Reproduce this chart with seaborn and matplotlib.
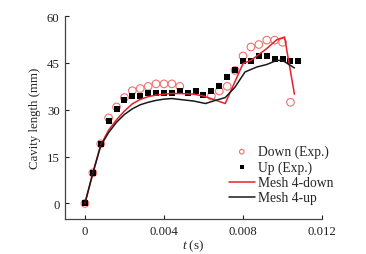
import matplotlib
matplotlib.use("Agg")
import matplotlib.pyplot as plt
import seaborn as sns
import pandas as pd
import numpy as np

# experimental points (t in s, cavity length in mm)
t_up = [0, 0.0004, 0.0008, 0.0012, 0.0016, 0.0020, 0.0024, 0.0028, 0.0032, 0.0036,
        0.0040, 0.0044, 0.0048, 0.0052, 0.0056, 0.0060, 0.0064, 0.0068, 0.0072, 0.0076,
        0.0080, 0.0084, 0.0088, 0.0092, 0.0096, 0.0100, 0.0104, 0.0108]
up_exp = [0, 9.8, 19.1, 26.4, 30.2, 33.1, 34.4, 34.4, 35.3, 35.3,
          35.3, 35.3, 35.9, 35.3, 35.9, 34.6, 35.9, 37.5, 40.5, 42.6,
          45.7, 45.7, 47.2, 47.2, 46.4, 46.4, 45.7, 45.7]

t_down = [0, 0.0004, 0.0008, 0.0012, 0.0016, 0.0020, 0.0024, 0.0028, 0.0032, 0.0036,
          0.0040, 0.0044, 0.0048, 0.0064, 0.0068, 0.0072, 0.0076,
          0.0080, 0.0084, 0.0088, 0.0092, 0.0096, 0.0100, 0.0104]
down_exp = [0, 9.8, 19.1, 27.4, 30.9, 33.9, 36.1, 36.8, 37.5, 38.3,
            38.3, 38.3, 37.5, 34.4, 36.0, 37.5, 42.6,
            47.2, 50.1, 50.9, 52.3, 52.3, 51.6, 32.4]

# simulation curves
t_sim_down = [0, 0.0004, 0.0008, 0.0012, 0.0016, 0.0020, 0.0024, 0.0028, 0.0032, 0.0036,
              0.0040, 0.0044, 0.0048, 0.0055, 0.0060, 0.0065, 0.0071, 0.0080, 0.0084,
              0.0092, 0.0097, 0.0101, 0.0106]
mesh_down = [0, 9.8, 18.7, 23.5, 26.8, 29.6, 31.9, 33.3, 34.2, 34.7,
             35.0, 35.2, 35.2, 35.0, 34.4, 33.3, 32.0, 44.8, 45.8,
             49.6, 52.4, 53.3, 35.0]

t_sim_up = [0, 0.0004, 0.0008, 0.0012, 0.0016, 0.0020, 0.0024, 0.0028, 0.0032, 0.0036,
            0.0040, 0.0044, 0.0048, 0.0055, 0.0061, 0.0066, 0.0071, 0.0076, 0.0081,
            0.0087, 0.0092, 0.0097, 0.0100, 0.0106]
mesh_up = [0, 9.6, 18.5, 22.7, 26.0, 28.5, 30.3, 31.6, 32.4, 33.0,
           33.4, 33.6, 33.3, 32.8, 32.0, 33.0, 33.9, 37.3, 42.1,
           43.7, 44.5, 45.8, 45.8, 43.4]

sns.set_theme(style="ticks")
plt.rcParams['font.family'] = ['Liberation Serif', 'DejaVu Serif']
plt.rcParams['mathtext.fontset'] = 'custom'
plt.rcParams['mathtext.it'] = 'Liberation Serif:italic'
plt.rcParams['mathtext.rm'] = 'Liberation Serif'

fig = plt.figure(figsize=(3.66, 2.55), dpi=100)
ax = fig.add_axes([0.178, 0.137, 0.702, 0.796])

red = "#e8202a"
pink = "#f07070"
ink = "#1a1a1a"

sns.scatterplot(x=t_down, y=down_exp, ax=ax, marker='o', s=30,
                facecolor='none', edgecolor=pink, linewidth=0.8,
                label='Down (Exp.)', zorder=3)
sns.scatterplot(x=t_up, y=up_exp, ax=ax, marker='s', s=24,
                color='black', edgecolor='black', linewidth=0,
                label='Up (Exp.)', zorder=4)
sns.lineplot(x=t_sim_down, y=mesh_down, ax=ax, color=red, lw=1.1,
             label='Mesh 4-down', estimator=None, sort=False, zorder=5)
sns.lineplot(x=t_sim_up, y=mesh_up, ax=ax, color=ink, lw=1.1,
             label='Mesh 4-up', estimator=None, sort=False, zorder=5)

ax.set_xlim(-0.001, 0.012)
ax.set_ylim(-5, 60)
ax.set_xticks([0, 0.004, 0.008, 0.012])
ax.set_xticklabels(['0', '0.004', '0.008', '0.012'])
ax.set_yticks([0, 15, 30, 45, 60])
ax.tick_params(direction='in', length=3, width=0.8, labelsize=9.2,
               colors='#222222', pad=4)
for side in ['top', 'right']:
    ax.spines[side].set_visible(False)
for side in ['left', 'bottom']:
    ax.spines[side].set_color('#444444')
    ax.spines[side].set_linewidth(0.9)

ax.set_xlabel('$t$ (s)', fontsize=9.5, labelpad=1)
ax.set_ylabel('Cavity length (mm)', fontsize=9.3, labelpad=4)

ax.legend(loc='lower left', bbox_to_anchor=(0.60, 0.025), frameon=False,
          fontsize=9.8, handlelength=1.9, handletextpad=0.25,
          labelspacing=0.16, borderpad=0.2, markerscale=0.6)

fig.savefig('out.png', dpi=100)
